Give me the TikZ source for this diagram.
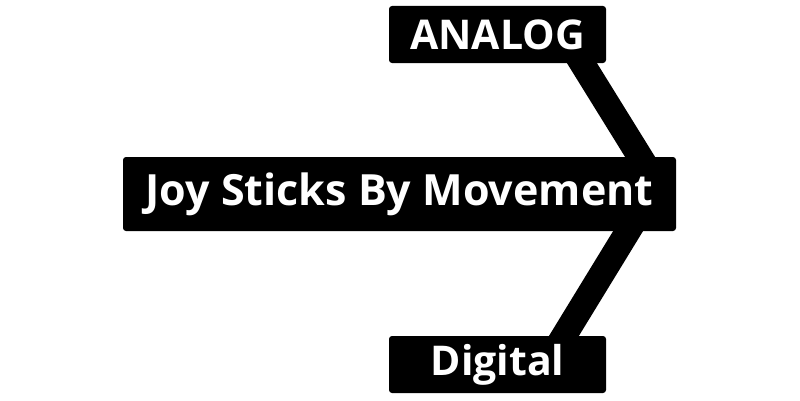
\documentclass[tikz,border=0pt]{standalone}
\usepackage{fontspec}
\setmainfont{Open Sans}
\usetikzlibrary{positioning,backgrounds}
\tikzset{box/.style={
        fill=black, text=white, rounded corners=3pt,
        inner sep=0pt, font=\bfseries
    },
    link/.style={
        line width=25.5pt, black,
        shorten <=-10pt, shorten >=-10pt
    }
}

\begin{document}
\begin{tikzpicture}[x=1pt,y=1pt]
        \useasboundingbox (0,0) rectangle (800,400);
        \node[box, minimum width=553pt, minimum height=74pt,
            font=\fontsize{43}{43}\bfseries] (main) at (399.5,206) {Joy Sticks By Movement};
        \node[box, minimum width=217pt, minimum height=57pt,
            font=\fontsize{41}{41}\bfseries] (analog) at (497.5,365.5) {ANALOG};
        \node[box, minimum width=217pt, minimum height=57pt,
            font=\fontsize{41}{41}\bfseries] (digital) at (497.5,35.5) {Digital};
        \begin{scope}[on background layer]
            \draw[link] ([xshift=84.5pt]analog.south) -- ([xshift=240.5pt]main.north);
            \draw[link] ([xshift=228.5pt]main.south) -- ([xshift=66.5pt]digital.north);
        \end{scope}
    \end{tikzpicture}
\end{document}
